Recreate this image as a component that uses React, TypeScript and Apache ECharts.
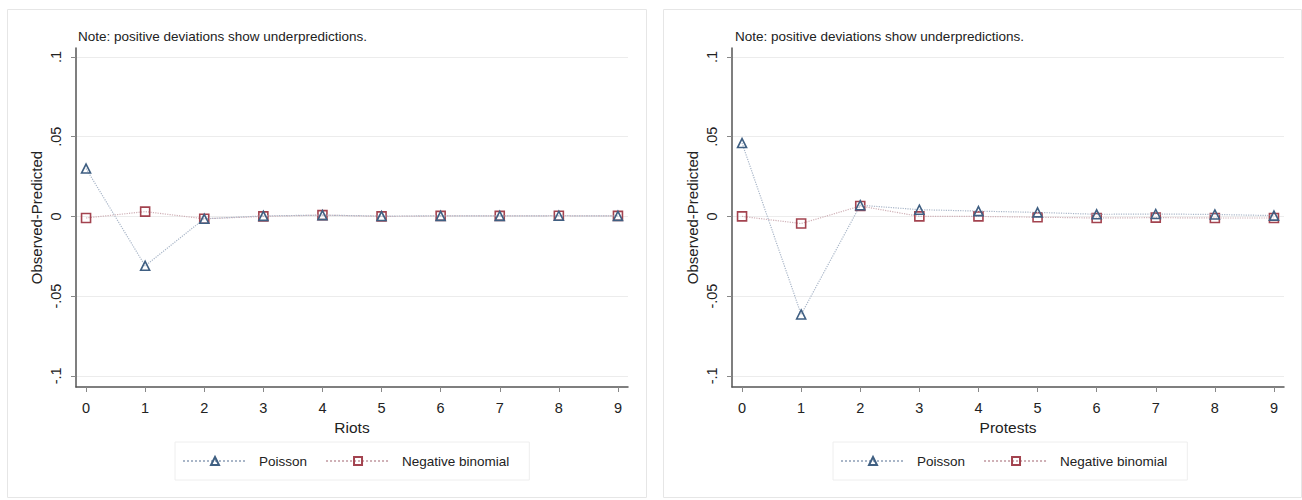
import React, { useEffect, useRef } from "react";
import * as echarts from "echarts";

const counts = [0, 1, 2, 3, 4, 5, 6, 7, 8, 9];
const yTicks = [-0.1, -0.05, 0, 0.05, 0.1];
const riotsPoisson = [0.030, -0.031, -0.0015, 0.0003, 0.0008, 0.0002, 0.0003, 0.0003, 0.0004, 0.0003];
const riotsNegBin = [-0.001, 0.003, -0.0015, 0.0, 0.0008, 0.0, 0.0003, 0.0003, 0.0004, 0.0003];
const protestsPoisson = [0.046, -0.0615, 0.007, 0.0042, 0.0033, 0.0025, 0.0013, 0.0015, 0.0012, 0.0005];
const protestsNegBin = [0.0, -0.0045, 0.0065, 0.0, 0.0, -0.0005, -0.001, -0.0008, -0.001, -0.001];
const panelTitles = ["Riots", "Protests"];
const noteText = "Note: positive deviations show underpredictions.";
const seriesNames = ["Poisson", "Negative binomial"];

const FONT = "Liberation Sans, Arial, sans-serif";

const fmtY = (v: number) => {
  if (Math.abs(v) < 1e-9) return "0";
  const s = String(Math.abs(v)).replace(/^0/, "");
  return (v < 0 ? "-" : "") + s;
};

const pairs = (ys: number[]) => counts.map((c, i) => [c, ys[i]]);

export default function App() {
  const ref = useRef<HTMLDivElement>(null);
  useEffect(() => {
    const chart = echarts.init(ref.current!, undefined, { renderer: "svg" });
    const panelLeft = [76, 732];
    const grids = panelLeft.map((l) => ({ left: l, top: 48, width: 552, height: 339 }));
    const xAxes = panelLeft.map((_, i) => ({
      type: "value",
      gridIndex: i,
      min: -0.17,
      max: 9.17,
      name: panelTitles[i],
      nameLocation: "middle",
      nameGap: 24,
      nameTextStyle: { fontFamily: FONT, fontSize: 15.5, color: "#222" },
      axisLine: { show: true, onZero: false, lineStyle: { color: "#555", width: 1.5 } },
      axisTick: { show: true, length: 5, customValues: counts, lineStyle: { color: "#888" } },
      axisLabel: { customValues: counts, margin: 13, fontFamily: FONT, fontSize: 14.5, color: "#222" },
      splitLine: { show: false },
    }));
    const yAxes = panelLeft.map((_, i) => ({
      type: "value",
      gridIndex: i,
      min: -0.107,
      max: 0.1056,
      name: "Observed-Predicted",
      nameLocation: "middle",
      nameGap: 32,
      nameRotate: 90,
      nameTextStyle: { fontFamily: FONT, fontSize: 15, color: "#222" },
      axisLine: { show: true, onZero: false, lineStyle: { color: "#555", width: 1.5 } },
      axisTick: { show: true, length: 5, customValues: yTicks, lineStyle: { color: "#888" } },
      axisLabel: {
        customValues: yTicks,
        rotate: 90,
        margin: 13,
        formatter: (v: number) => fmtY(v),
        fontFamily: FONT,
        fontSize: 14.5,
        color: "#222",
      },
      splitLine: { show: true, lineStyle: { color: "#ececec", width: 1 } },
    }));
    const poissonStyle = (i: number, data: number[]) => ({
      name: seriesNames[0],
      type: "line",
      xAxisIndex: i,
      yAxisIndex: i,
      data: pairs(data),
      symbol: "triangle",
      symbolSize: 9,
      z: 3,
      lineStyle: { color: "#a9b6c8", width: 1.2, type: "dotted" },
      itemStyle: { color: "transparent", borderColor: "#3f5f82", borderWidth: 1.6 },
    });
    const negStyle = (i: number, data: number[]) => ({
      name: seriesNames[1],
      type: "line",
      xAxisIndex: i,
      yAxisIndex: i,
      data: pairs(data),
      symbol: "rect",
      symbolSize: 9,
      z: 2,
      lineStyle: { color: "#cfb0b6", width: 1.2, type: "dotted" },
      itemStyle: { color: "transparent", borderColor: "#a3434f", borderWidth: 1.6 },
    });
    const legends = [175, 833].map((l) => ({
      left: l,
      top: 442,
      orient: "horizontal",
      data: seriesNames,
      itemWidth: 64,
      itemHeight: 10,
      itemGap: 18,
      padding: [12, 20, 12, 7],
      borderColor: "#eeeeee",
      borderWidth: 1,
      selectedMode: false,
      textStyle: { fontFamily: FONT, fontSize: 13.5, color: "#222", padding: [0, 0, 0, 7] },
    }));
    const option = {
      animation: false,
      backgroundColor: "#ffffff",
      grid: grids,
      xAxis: xAxes,
      yAxis: yAxes,
      legend: legends,
      graphic: [
        { type: "rect", shape: { x: 7.5, y: 9.5, width: 639, height: 488 }, style: { fill: "none", stroke: "#e6e6e6", lineWidth: 1 }, silent: true },
        { type: "rect", shape: { x: 663.5, y: 9.5, width: 638, height: 488 }, style: { fill: "none", stroke: "#e6e6e6", lineWidth: 1 }, silent: true },
        { type: "text", x: 78, y: 36, style: { text: noteText, fontFamily: FONT, fontSize: 13.5, fill: "#222", verticalAlign: "middle" } },
        { type: "text", x: 735, y: 36, style: { text: noteText, fontFamily: FONT, fontSize: 13.5, fill: "#222", verticalAlign: "middle" } },
      ],
      series: [
        poissonStyle(0, riotsPoisson),
        negStyle(0, riotsNegBin),
        poissonStyle(1, protestsPoisson),
        negStyle(1, protestsNegBin),
      ],
    };
    chart.setOption(option as any);
    return () => chart.dispose();
  }, []);
  return (
    <div
      ref={ref}
      style={{ position: "absolute", left: 0, top: 0, width: 1302, height: 500, background: "#fff" }}
    />
  );
}
